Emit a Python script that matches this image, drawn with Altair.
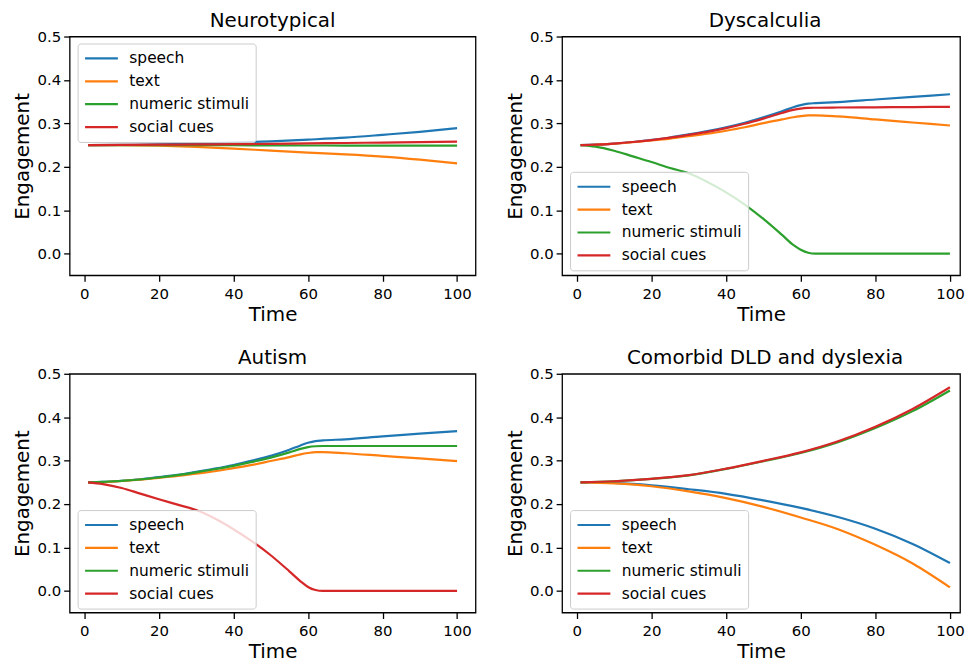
import altair as alt
import pandas as pd

SERIES = ["speech", "text", "numeric stimuli", "social cues"]
COLORS = ["#1f77b4", "#ff7f0e", "#2ca02c", "#d62728"]

# time grids
t_coarse = [1, 10, 20, 30, 40, 50, 60, 70, 80, 90, 100]
t_fine = [1, 5, 10, 15, 20, 25, 30, 35, 40, 45, 50, 55, 58, 60, 62, 64, 70, 80, 90, 100]

# Neurotypical (t_coarse)
neuro_speech = [0.250, 0.2505, 0.2515, 0.2535, 0.2555, 0.2585, 0.2625, 0.2670, 0.2735, 0.2805, 0.2890]
neuro_text = [0.250, 0.2497, 0.2485, 0.2458, 0.2420, 0.2370, 0.2325, 0.2285, 0.2235, 0.2165, 0.2080]
neuro_numeric = [0.250, 0.2500, 0.2499, 0.2497, 0.2495, 0.2493, 0.2490, 0.2489, 0.2488, 0.2487, 0.2486]
neuro_social = [0.250, 0.2503, 0.2508, 0.2514, 0.2520, 0.2528, 0.2538, 0.2548, 0.2558, 0.2569, 0.2580]

# Dyscalculia (t_fine)
dysc_speech = [0.250, 0.2510, 0.2535, 0.2570, 0.2620, 0.2675, 0.2745, 0.2820, 0.2910, 0.3015, 0.3140,
               0.3280, 0.3370, 0.3420, 0.3455, 0.3465, 0.3490, 0.3550, 0.3610, 0.3670]
dysc_text = [0.250, 0.2505, 0.2530, 0.2565, 0.2605, 0.2650, 0.2705, 0.2760, 0.2830, 0.2910, 0.3005,
             0.3090, 0.3140, 0.3165, 0.3185, 0.3185, 0.3160, 0.3090, 0.3020, 0.2950]
dysc_numeric = [0.250, 0.2465, 0.2370, 0.2240, 0.2110, 0.1970, 0.1850, 0.1650, 0.1410, 0.1130, 0.0800,
                0.0430, 0.0200, 0.0090, 0.0020, 0.0000, 0.0000, 0.0000, 0.0000, 0.0000]
dysc_social = [0.250, 0.2510, 0.2535, 0.2570, 0.2615, 0.2670, 0.2735, 0.2805, 0.2890, 0.2990, 0.3110,
               0.3240, 0.3310, 0.3340, 0.3355, 0.3360, 0.3365, 0.3370, 0.3375, 0.3380]

# Autism (t_fine)
aut_speech = [0.250, 0.2510, 0.2535, 0.2570, 0.2620, 0.2670, 0.2740, 0.2815, 0.2900, 0.3000, 0.3110,
              0.3250, 0.3350, 0.3410, 0.3450, 0.3465, 0.3490, 0.3560, 0.3620, 0.3680]
aut_text = [0.250, 0.2505, 0.2530, 0.2560, 0.2600, 0.2645, 0.2700, 0.2755, 0.2825, 0.2900, 0.2990,
            0.3080, 0.3145, 0.3175, 0.3195, 0.3195, 0.3170, 0.3110, 0.3050, 0.2987]
aut_numeric = [0.250, 0.2510, 0.2535, 0.2565, 0.2610, 0.2665, 0.2730, 0.2800, 0.2880, 0.2970, 0.3070,
               0.3190, 0.3270, 0.3310, 0.3330, 0.3336, 0.3336, 0.3336, 0.3336, 0.3336]
aut_social = [0.250, 0.2460, 0.2370, 0.2240, 0.2110, 0.1985, 0.1860, 0.1665, 0.1420, 0.1140, 0.0820,
              0.0450, 0.0220, 0.0090, 0.0020, 0.0000, 0.0000, 0.0000, 0.0000, 0.0000]

# Comorbid DLD and dyslexia (t_coarse)
como_speech = [0.250, 0.2485, 0.2430, 0.2340, 0.2235, 0.2085, 0.1910, 0.1700, 0.1430, 0.1080, 0.0640]
como_text = [0.250, 0.2475, 0.2410, 0.2290, 0.2135, 0.1935, 0.1690, 0.1420, 0.1060, 0.0630, 0.0080]
como_numeric = [0.250, 0.2525, 0.2578, 0.2660, 0.2808, 0.2985, 0.3175, 0.3425, 0.3750, 0.4140, 0.4616]
como_social = [0.250, 0.2525, 0.2580, 0.2665, 0.2815, 0.2995, 0.3190, 0.3445, 0.3780, 0.4190, 0.4690]

X_TICKS = [0, 20, 40, 60, 80, 100]
Y_TICKS = [0.0, 0.1, 0.2, 0.3, 0.4, 0.5]


def make_df(times, series_values):
    rows = []
    for name, vals in zip(SERIES, series_values):
        for t, v in zip(times, vals):
            rows.append({"time": t, "value": v, "series": name})
    return pd.DataFrame(rows)


def panel(df, title, legend_y, x_max, width, title_dx):
    return alt.Chart(df).mark_line(strokeWidth=2.2, interpolate="monotone").encode(
        x=alt.X("time:Q",
                scale=alt.Scale(domain=[-3.95, x_max], nice=False, zero=False),
                axis=alt.Axis(values=X_TICKS, title="Time", labelPadding=5, titlePadding=3)),
        y=alt.Y("value:Q",
                scale=alt.Scale(domain=[-0.05, 0.5], nice=False, zero=False),
                axis=alt.Axis(values=Y_TICKS, format=".1f", title="Engagement")),
        color=alt.Color("series:N",
                        scale=alt.Scale(domain=SERIES, range=COLORS),
                        title=None,
                        legend=alt.Legend(orient="none", legendX=8, legendY=legend_y)),
        detail="series:N",
    ).properties(width=width, height=240,
                 title=alt.TitleParams(title, dx=title_dx))


p1 = panel(make_df(t_coarse, [neuro_speech, neuro_text, neuro_numeric, neuro_social]),
           "Neurotypical", 7, 104.95, 408, 0)
p2 = panel(make_df(t_fine, [dysc_speech, dysc_text, dysc_numeric, dysc_social]),
           "Dyscalculia", 136, 102.7, 400, 4)
p3 = panel(make_df(t_fine, [aut_speech, aut_text, aut_numeric, aut_social]),
           "Autism", 137, 104.95, 408, 0)
p4 = panel(make_df(t_coarse, [como_speech, como_text, como_numeric, como_social]),
           "Comorbid DLD and dyslexia", 137, 102.7, 400, 4)

row1 = alt.hconcat(p1, p2, spacing=28).resolve_scale(color="independent").resolve_legend(color="independent")
row2 = alt.hconcat(p3, p4, spacing=28).resolve_scale(color="independent").resolve_legend(color="independent")

chart = alt.vconcat(row1, row2, spacing=22).resolve_scale(color="independent").resolve_legend(
    color="independent"
).properties(
    padding={"left": 12, "top": 8, "right": 0, "bottom": 0}
).configure(
    font="DejaVu Sans", background="white"
).configure_view(
    stroke="black", strokeWidth=1.3
).configure_axis(
    domain=False, grid=False,
    labelFont="DejaVu Sans", labelFontSize=15, labelColor="black", labelPadding=3,
    titleFont="DejaVu Sans", titleFontSize=20, titleFontWeight="normal", titleColor="black",
    titlePadding=4,
    tickColor="black", tickSize=6, tickWidth=1.3,
).configure_title(
    font="DejaVu Sans", fontSize=20, fontWeight="normal", color="black", offset=-1, anchor="middle"
).configure_legend(
    labelFont="DejaVu Sans", labelFontSize=15.5, labelColor="black",
    symbolType="M-1,0H3.4", symbolSize=225, symbolStrokeWidth=2.2,
    labelOffset=28, rowPadding=5, padding=6,
    fillColor="rgba(255,255,255,0.8)", strokeColor="#cccccc", cornerRadius=3,
)

chart.save("out.html", embed_options={"renderer": "svg", "actions": False})
